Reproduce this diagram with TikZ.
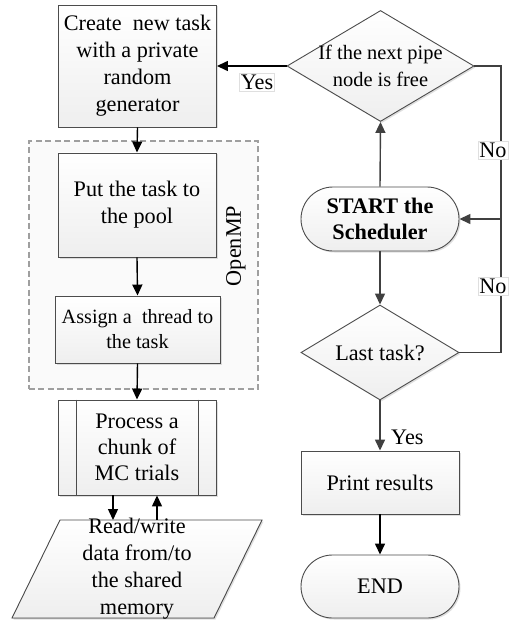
\documentclass[tikz,border=0pt]{standalone}
\usepackage{fontspec}
\setmainfont{Liberation Serif}
\usetikzlibrary{shapes.geometric,shapes.misc,arrows.meta,shadows}
\begin{document}
\begin{tikzpicture}[x=1bp,y=-1bp,
  every node/.style={font=\fontsize{22.3}{27}\selectfont, align=center, inner sep=0pt},
  boxfill/.style={top color=white, bottom color=gray!13, draw=black!70, line width=0.9bp,
    drop shadow={opacity=0.25, shadow xshift=1.5bp, shadow yshift=-1.5bp}},
  procbox/.style={boxfill, rectangle},
  termbox/.style={boxfill, rounded rectangle},
  dia/.style={boxfill, diamond},
  txt/.style={},
  lbl/.style={fill=white, draw=gray!25, inner sep=1.5bp},
  karr/.style={line width=1.4bp, black, -{Triangle[length=11bp,width=10bp]}},
  garr/.style={line width=1.4bp, black!75, -{Triangle[length=11bp,width=10bp]}},
  gline/.style={line width=1.4bp, black!75}
]
\useasboundingbox (0,0) rectangle (510,621);
\fill[white] (0,0) rectangle (510,621);

% OpenMP region
\node[draw=gray!75, dashed, dash pattern=on 6bp off 3.5bp, line width=1.1bp, fill=gray!4,
  minimum width=229bp, minimum height=248bp] (omp) at (143.5,265) {};
\node[rotate=90] (omptxt) at (236,246) {OpenMP};

% left column
\node[procbox, minimum width=158bp, minimum height=122bp] (create) at (137.5,66)
  {Create~~new task\\with a private\\random\\generator};
\node[procbox, minimum width=158bp, minimum height=104bp] (put) at (137,205)
  {Put the task to\\the pool};
\node[procbox, minimum width=165bp, minimum height=67bp, font=\fontsize{20.3}{25}\selectfont] (assign) at (137.5,329.5)
  {Assign a~~thread to\\the task};
\node[procbox, minimum width=158bp, minimum height=95bp, font=\fontsize{22.3}{26}\selectfont] (process) at (137,447.5)
  {Process a\\chunk of\\MC trials};
\draw[black!70, line width=0.9bp] ([xshift=19bp]process.north west) -- ([xshift=19bp]process.south west);
\draw[black!70, line width=0.9bp] ([xshift=-18bp]process.north east) -- ([xshift=-18bp]process.south east);

% data parallelogram
\filldraw[top color=white, bottom color=gray!13, draw=black!70, line width=0.9bp,
  drop shadow={opacity=0.25, shadow xshift=1.5bp, shadow yshift=-1.5bp}]
  (12,618) -- (60,520) -- (262,520) -- (214,618) -- cycle;
\node (data) at (137,568.5) {Read/write\\data from/to\\the shared\\memory};
\coordinate (dtopA) at (113,520);
\coordinate (dtopB) at (157,520);

% right column
\node[dia, minimum width=187bp, minimum height=111bp] (d1) at (380.5,66) {};
\node[txt, font=\fontsize{20.5}{27}\selectfont] (d1t) at (d1) {If the next pipe\\node is free};
\node[termbox, minimum width=158bp, minimum height=64bp, font=\fontsize{22.3}{26}\selectfont\bfseries] (start) at (380,219)
  {START the\\Scheduler};
\node[dia, minimum width=158bp, minimum height=95bp] (d2) at (380,352.5) {};
\node[txt] (d2t) at (d2) {Last task?};
\node[procbox, minimum width=158bp, minimum height=63bp] (print) at (380,482.5) {Print results};
\node[termbox, minimum width=158bp, minimum height=63bp] (end) at (380,586.5) {END};
\coordinate (rj) at (501,219);

% connectors left
\draw[karr] (create.south) -- (put.north);
\draw[karr] (put.south) -- (assign.north);
\draw[karr] (assign.south) -- (process.north);
\draw[karr] (process.south -| dtopA) -- (dtopA);
\draw[karr] (dtopB) -- (process.south -| dtopB);

% connectors right
\draw[karr] (d1.west) -- (create.east);
\node[lbl] (yes1) at (257,82) {Yes};
\draw[garr] (start.north) -- (d1.south);
\draw[garr] (d1.east) -| (rj) -- (start.east);
\draw[gline] (d2.east) -| (rj);
\node[lbl] (no1) at (493,150) {No};
\node[lbl] (no2) at (493,286) {No};
\draw[garr] (start.south) -- (d2.north);
\draw[garr] (d2.south) -- (print.north);
\node[anchor=west] (yes2) at (391,437) {Yes};
\draw[karr] (print.south) -- (end.north);
\end{tikzpicture}
\end{document}
